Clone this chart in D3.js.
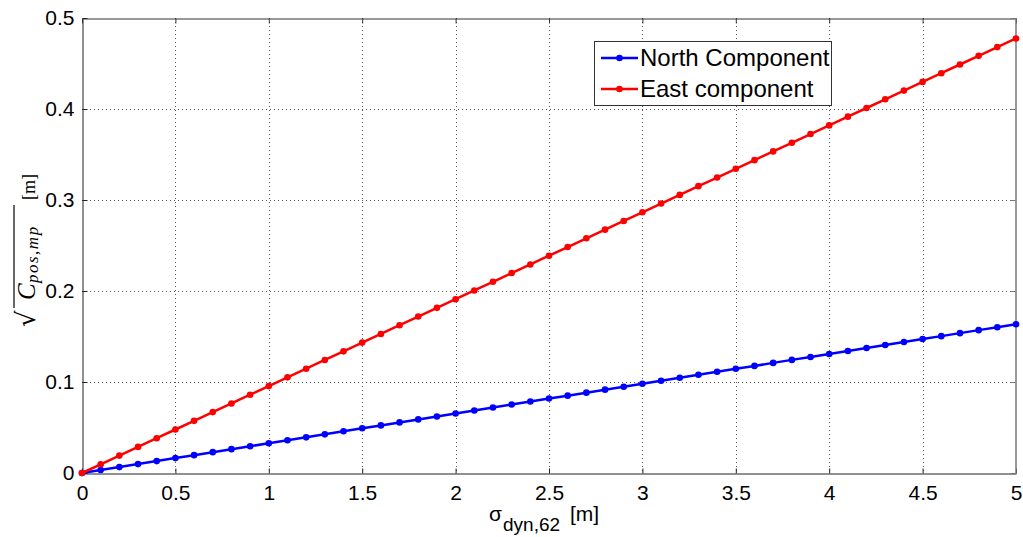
<!DOCTYPE html>
<html><head><meta charset="utf-8">
<script src="https://cdnjs.cloudflare.com/ajax/libs/d3/7.8.5/d3.min.js"></script>
<style>body{margin:0;background:#fff}svg{display:block}</style>
</head><body>
<script>
const xValues = [0,0.1,0.2,0.3,0.4,0.5,0.6,0.7,0.8,0.9,1.0,1.1,1.2,1.3,1.4,1.5,1.6,1.7,1.8,1.9,2.0,2.1,2.2,2.3,2.4,2.5,2.6,2.7,2.8,2.9,3.0,3.1,3.2,3.3,3.4,3.5,3.6,3.7,3.8,3.9,4.0,4.1,4.2,4.3,4.4,4.5,4.6,4.7,4.8,4.9,5.0];
const northValues = [0,0.0033,0.0065,0.0098,0.0131,0.0164,0.0196,0.0229,0.0262,0.0294,0.0327,0.0360,0.0392,0.0425,0.0458,0.0491,0.0523,0.0556,0.0589,0.0621,0.0654,0.0687,0.0719,0.0752,0.0785,0.0818,0.0850,0.0883,0.0916,0.0948,0.0981,0.1014,0.1046,0.1079,0.1112,0.1145,0.1177,0.1210,0.1243,0.1275,0.1308,0.1341,0.1373,0.1406,0.1439,0.1472,0.1504,0.1537,0.1570,0.1602,0.1635];
const eastValues = [0,0.0096,0.0191,0.0287,0.0382,0.0478,0.0573,0.0669,0.0764,0.0860,0.0955,0.1051,0.1146,0.1242,0.1337,0.1433,0.1528,0.1624,0.1719,0.1815,0.1910,0.2006,0.2101,0.2197,0.2292,0.2388,0.2483,0.2579,0.2674,0.2770,0.2865,0.2961,0.3056,0.3152,0.3247,0.3343,0.3438,0.3534,0.3629,0.3725,0.3820,0.3916,0.4011,0.4107,0.4202,0.4298,0.4393,0.4489,0.4584,0.4680,0.4775];
const xTicks = [0,0.5,1,1.5,2,2.5,3,3.5,4,4.5,5];
const xTickLabels = ["0","0.5","1","1.5","2","2.5","3","3.5","4","4.5","5"];
const yTicks = [0,0.1,0.2,0.3,0.4,0.5];
const yTickLabels = ["0","0.1","0.2","0.3","0.4","0.5"];
const seriesNames = ["North Component","East component"];
const seriesColors = ["#0000ff","#ff0000"];

const W=1023,H=537;
const L=82,R=1016,T=18,B=473;
const svg=d3.select("body").append("svg").attr("width",W).attr("height",H);
const font="Liberation Sans, Arial, sans-serif";
const serif="Liberation Serif, Times New Roman, serif";
const x=d3.scaleLinear().domain([0,5]).range([L,R]);
const y=d3.scaleLinear().domain([0,0.5]).range([B,T]);

// grid
const grid=svg.append("g").attr("stroke","#555").attr("stroke-width",1).attr("stroke-dasharray","1,3");
xTicks.slice(1,-1).forEach(t=>grid.append("line").attr("x1",Math.round(x(t))+0.5).attr("x2",Math.round(x(t))+0.5).attr("y1",T).attr("y2",B));
yTicks.slice(1,-1).forEach(t=>grid.append("line").attr("y1",Math.round(y(t))+0.5).attr("y2",Math.round(y(t))+0.5).attr("x1",L).attr("x2",R));

// axes via d3
const xAxis=svg.append("g").attr("transform",`translate(0,${B+0.5})`)
 .call(d3.axisBottom(x).tickValues(xTicks).tickFormat((d,i)=>xTickLabels[i]).tickSizeInner(-5).tickSizeOuter(0).tickPadding(12));
const yAxis=svg.append("g").attr("transform",`translate(${L+0.5},0)`)
 .call(d3.axisLeft(y).tickValues(yTicks).tickFormat((d,i)=>yTickLabels[i]).tickSizeInner(-5).tickSizeOuter(0).tickPadding(8));
[xAxis,yAxis].forEach(a=>{a.select(".domain").attr("stroke","#222");a.selectAll(".tick line").attr("stroke","#222");
 a.selectAll("text").attr("font-family",font).attr("font-size",21).attr("fill","#000");});
xAxis.selectAll("text").attr("dy","0.71em");
// top/right ticks and border
const topAxis=svg.append("g").attr("transform",`translate(0,${T+0.5})`)
 .call(d3.axisTop(x).tickValues(xTicks).tickFormat("").tickSizeInner(-5).tickSizeOuter(0));
const rightAxis=svg.append("g").attr("transform",`translate(${R-0.5},0)`)
 .call(d3.axisRight(y).tickValues(yTicks).tickFormat("").tickSizeInner(-5).tickSizeOuter(0));
topAxis.selectAll("path,line").attr("stroke","#333");
rightAxis.selectAll(".domain").attr("stroke","#777").attr("stroke-width",1.5);
rightAxis.selectAll(".tick line").attr("stroke","#777");

// series
const series=[northValues,eastValues];
const line=d3.line().x((d,i)=>x(xValues[i])).y(d=>y(d));
series.forEach((vals,k)=>{
  const g=svg.append("g");
  g.append("path").datum(vals).attr("d",line).attr("fill","none").attr("stroke",seriesColors[k]).attr("stroke-width",2.5);
  g.selectAll("circle").data(vals).join("circle").attr("cx",(d,i)=>x(xValues[i])).attr("cy",d=>y(d)).attr("r",3.3).attr("fill",seriesColors[k]);
});

// legend
const lg=svg.append("g");
lg.append("rect").attr("x",594.5).attr("y",41.5).attr("width",237).attr("height",64).attr("fill","#fff").attr("stroke","#333");
seriesNames.forEach((n,k)=>{
  const yy=58+k*31;
  lg.append("line").attr("x1",601).attr("x2",638).attr("y1",yy).attr("y2",yy).attr("stroke",seriesColors[k]).attr("stroke-width",2.5);
  lg.append("circle").attr("cx",619.5).attr("cy",yy).attr("r",3.3).attr("fill",seriesColors[k]);
  lg.append("text").attr("x",640).attr("y",yy).attr("dy","0.35em").attr("font-family",font).attr("font-size",24).text(n);
});

// x label
svg.append("text").attr("x",489).attr("y",521).attr("font-family",font).attr("font-size",21).text("σ");
svg.append("text").attr("x",503).attr("y",531).attr("font-family",font).attr("font-size",19).text("dyn,62");
svg.append("text").attr("x",570).attr("y",521).attr("font-family",font).attr("font-size",21).text("[m]");

// y label
const yl=svg.append("g").attr("transform","translate(35,327) rotate(-90)");
yl.append("text").attr("x",0).attr("y",0).attr("font-family","DejaVu Serif, serif").attr("font-size",26).text("√");
yl.append("text").attr("x",27).attr("y",0).attr("font-family",serif).attr("font-style","italic").attr("font-size",25).text("C");
yl.append("text").attr("x",44).attr("y",3).attr("font-family",serif).attr("font-style","italic").attr("font-size",17).attr("letter-spacing",1.5).text("pos,mp");
yl.append("line").attr("x1",19).attr("x2",122).attr("y1",-21).attr("y2",-21).attr("stroke","#000").attr("stroke-width",1.2);
yl.append("text").attr("x",127).attr("y",0).attr("font-family",serif).attr("font-size",18).text("[m]");
</script>
</body></html>
